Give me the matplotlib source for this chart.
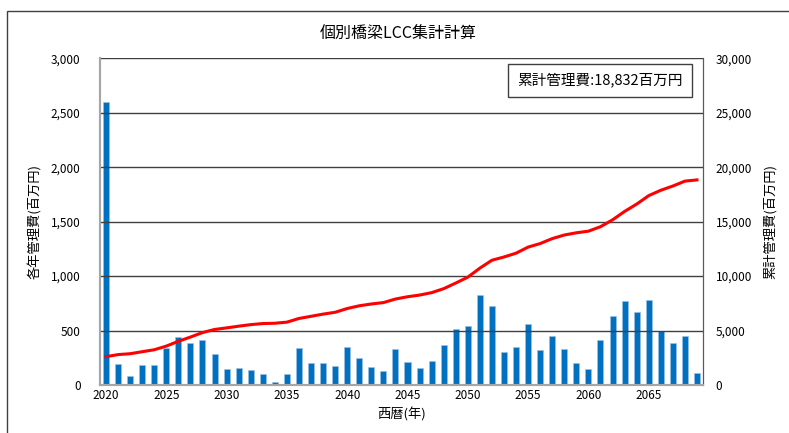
import numpy as np
import matplotlib.pyplot as plt
import matplotlib.patches as mpatches

plt.rcParams['font.family'] = ['Noto Sans CJK JP', 'DejaVu Sans']

# data start here
years = list(range(2020, 2070))
annual_cost = [2600, 191, 80, 185, 179, 336, 440, 390, 410, 287,
               145, 157, 142, 99, 28, 102, 336, 200, 200, 170,
               345, 250, 167, 127, 327, 210, 154, 222, 367, 515,
               540, 830, 725, 299, 349, 560, 324, 454, 330, 204,
               148, 410, 630, 775, 670, 780, 492, 389, 451, 111]
tick_years = [2020, 2025, 2030, 2035, 2040, 2045, 2050, 2055, 2060, 2065]
# data end here

cumulative = np.cumsum(annual_cost)
total = int(cumulative[-1])

fig = plt.figure(figsize=(7.89, 4.33), dpi=100)
ax = fig.add_axes([0.1267, 0.1109, 0.7643, 0.7545])
ax2 = ax.twinx()

x = np.arange(len(years))
ax.bar(x, annual_cost, width=0.5, color='#0070C0', edgecolor='#9DC3E6',
       linewidth=0.4, zorder=2)

# horizontal grid drawn over the bars
for v in range(500, 3001, 500):
    ax.axhline(v, color='#404040', lw=1.0, zorder=3)

ax2.plot(x, cumulative, color='#FF0000', lw=2.2, zorder=4)

ax.set_xlim(-0.5, len(years) - 0.5)
ax.set_ylim(0, 3000)
ax2.set_ylim(0, 30000)

ax.set_xticks([years.index(y) for y in tick_years])
ax.set_xticklabels([str(y) for y in tick_years])
ax.set_yticks(range(0, 3001, 500))
ax.set_yticklabels([f'{v:,}' for v in range(0, 3001, 500)])
ax2.set_yticks(range(0, 30001, 5000))
ax2.set_yticklabels([f'{v:,}' for v in range(0, 30001, 5000)])

ax.tick_params(axis='x', length=0, pad=3, labelsize=8.5)
ax.tick_params(axis='y', length=0, pad=14, labelsize=8.5)
ax2.tick_params(axis='y', length=0, pad=9, labelsize=8.5)

for a in (ax, ax2):
    a.spines['top'].set_visible(False)
    a.spines['left'].set_color('#A6A6A6')
    a.spines['bottom'].set_color('#A6A6A6')
    a.spines['right'].set_color('#595959')
    a.spines['left'].set_linewidth(1.5)
    a.spines['bottom'].set_linewidth(1.5)

ax.set_xlabel('西暦(年)', fontsize=9.5, labelpad=4)
ax.set_ylabel('各年管理費(百万円)', fontsize=9.5, labelpad=6)
ax2.set_ylabel('累計管理費(百万円)', fontsize=9.5, rotation=90, labelpad=8)

fig.text(0.505, 0.922, '個別橋梁LCC集計計算', ha='center', va='center',
         fontsize=11.5)

ax2.text(0.829, 0.933, f'累計管理費:{total:,}百万円', transform=ax.transAxes,
         ha='center', va='center', fontsize=10.5, zorder=5,
         bbox=dict(boxstyle='square,pad=0.62', fc='white', ec='#404040', lw=1))

# chart area border (runs off the right and bottom edges)
border = mpatches.Rectangle((7 / 789, -0.2), 1.2, 0.2 + 1 - 11 / 433,
                            transform=fig.transFigure, fill=False,
                            ec='#404040', lw=1)
fig.patches.append(border)

fig.savefig('out.png', dpi=100)
